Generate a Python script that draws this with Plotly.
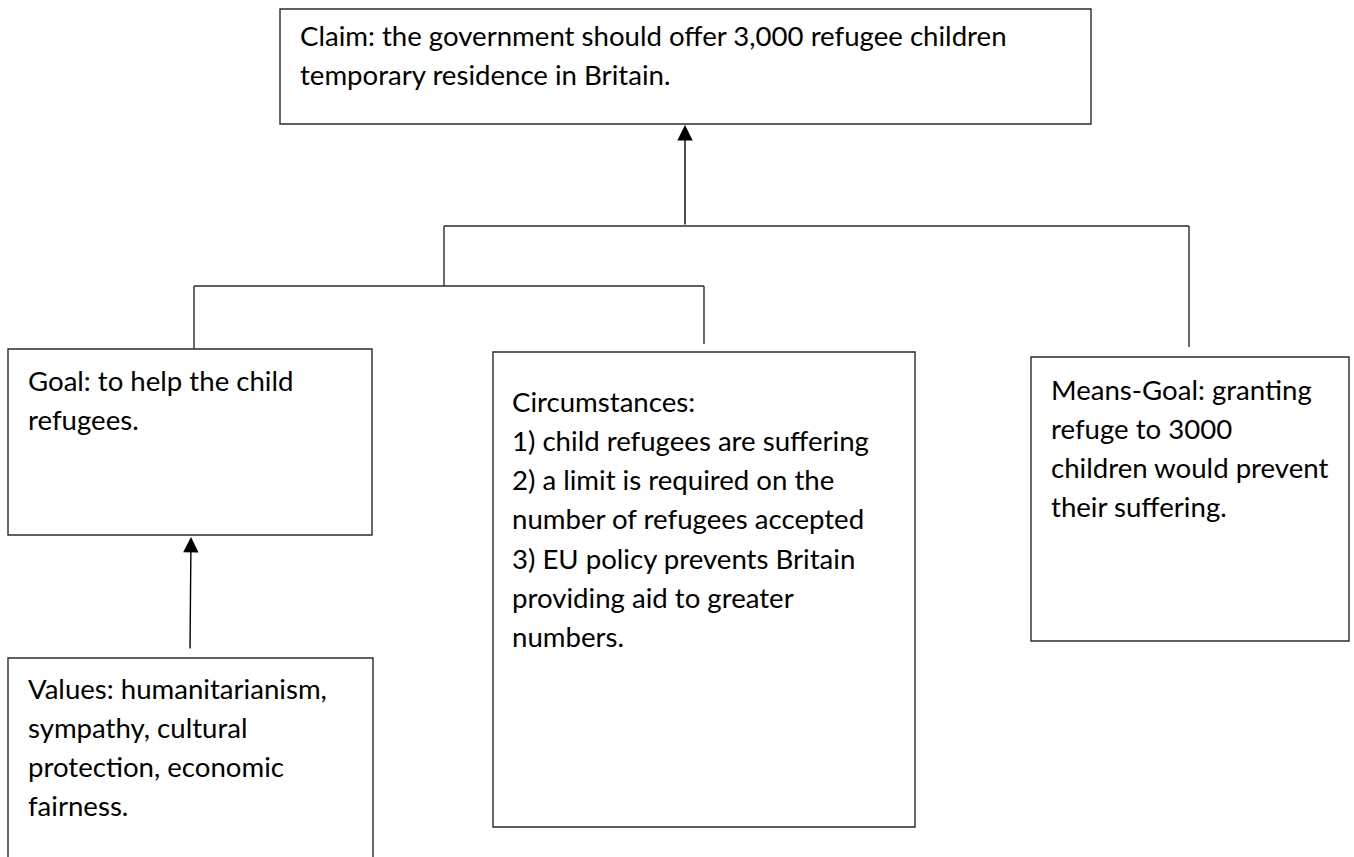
import plotly.graph_objects as go

W, H = 1354, 857

# Boxes of the argument diagram (pixel coordinates, y down)
box_names = ["Claim", "Goal", "Values", "Circumstances", "Means-Goal"]
box_x0 = [280, 8, 8, 493, 1031]
box_x1 = [1091, 372, 373, 915, 1349]
box_y0 = [9, 349, 658, 352, 357]
box_y1 = [124, 535, 880, 827, 641]

# Text lines in each box
box_lines = [
    ["Claim: the government should offer 3,000 refugee children",
     "temporary residence in Britain."],
    ["Goal: to help the child",
     "refugees."],
    ["Values: humanitarianism,",
     "sympathy, cultural",
     "protection, economic",
     "fairness."],
    ["Circumstances:",
     "1) child refugees are suffering",
     "2) a limit is required on the",
     "number of refugees accepted",
     "3) EU policy prevents Britain",
     "providing aid to greater",
     "numbers."],
    ["Means-Goal: granting",
     "refuge to 3000",
     "children would prevent",
     "their suffering."],
]
text_x = [298, 26, 26, 510, 1049]
text_y_first = [35, 380, 688, 401, 389]
line_gap = 39.3

# Connector lines (plain segments)
seg_x0 = [444, 1189, 444, 194, 194, 704]
seg_y0 = [226, 226, 226, 286, 286, 286]
seg_x1 = [1189, 1189, 444, 704, 194, 704]
seg_y1 = [226, 347, 286, 286, 349, 344]

# Arrows (tail -> head)
arr_tail_x = [685, 190]
arr_tail_y = [226, 650]
arr_head_x = [685, 191]
arr_head_y = [125, 537]

line_col = "#2b2b2b"
font_family = "Lato, 'Open Sans', sans-serif"
font_size = 27.6

fig = go.Figure()

shapes = []
for i in range(len(box_names)):
    shapes.append(dict(type="rect", xref="x", yref="y",
                       x0=box_x0[i], x1=box_x1[i], y0=box_y0[i], y1=box_y1[i],
                       line=dict(color=line_col, width=1.4), fillcolor="rgba(0,0,0,0)"))
for i in range(len(seg_x0)):
    shapes.append(dict(type="line", xref="x", yref="y",
                       x0=seg_x0[i], y0=seg_y0[i], x1=seg_x1[i], y1=seg_y1[i],
                       line=dict(color=line_col, width=1.4)))

annotations = []
for i, lines in enumerate(box_lines):
    for j, t in enumerate(lines):
        annotations.append(dict(x=text_x[i], y=text_y_first[i] + j * line_gap,
                                xref="x", yref="y", text=t, showarrow=False,
                                xanchor="left", yanchor="middle",
                                font=dict(family=font_family, size=font_size, color="#000000")))
for i in range(len(arr_tail_x)):
    annotations.append(dict(x=arr_head_x[i], y=arr_head_y[i], ax=arr_tail_x[i], ay=arr_tail_y[i],
                            xref="x", yref="y", axref="x", ayref="y", text="",
                            showarrow=True, arrowhead=2, arrowsize=2.2, arrowwidth=1.4,
                            arrowcolor="#000000"))

fig.update_layout(
    width=W, height=H,
    margin=dict(l=0, r=0, t=0, b=0),
    paper_bgcolor="white", plot_bgcolor="white",
    xaxis=dict(range=[0, W], visible=False, fixedrange=True),
    yaxis=dict(range=[H, 0], visible=False, fixedrange=True),
    shapes=shapes, annotations=annotations, showlegend=False,
)

fig.write_html("out.html",
               config={"displayModeBar": False, "staticPlot": True},
               post_script="document.body.style.margin='0';document.body.style.overflow='hidden';")
